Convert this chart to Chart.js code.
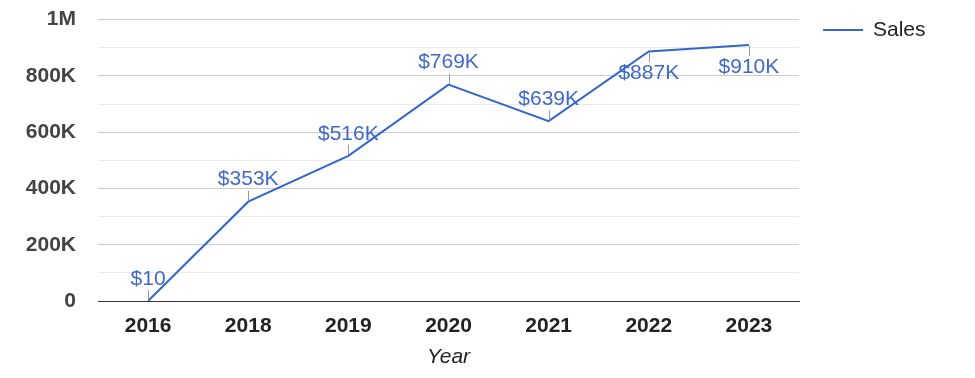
<!DOCTYPE html>
<html lang="en">
<head>
    <meta charset="UTF-8">
    <title>Sales by Year</title>
    <script src="https://cdn.jsdelivr.net/npm/chart.js"></script>
    <style>
        body { margin: 0; background: #fff; }
        #wrap { width: 975px; height: 378px; }
    </style>
</head>
<body>
    <div id="wrap"><canvas id="salesChart"></canvas></div>
    <script>
        const years = ['2016', '2018', '2019', '2020', '2021', '2022', '2023'];
        const sales = [10, 353000, 516000, 769000, 639000, 887000, 910000];
        const yTickValues = [0, 200000, 400000, 600000, 800000, 1000000];
        const yTickLabels = ['0', '200K', '400K', '600K', '800K', '1M'];

        const FONT = '"Liberation Sans", Arial, sans-serif';
        const LINE = '#3366cc';

        function money(v) {
            if (v >= 1000) return '$' + Math.round(v / 1000) + 'K';
            return '$' + v;
        }

        // point labels with the little gray stem, like google charts annotations
        const annotations = {
            id: 'annotations',
            afterDatasetsDraw(chart) {
                const ctx = chart.ctx;
                const meta = chart.getDatasetMeta(0);
                const top = chart.chartArea.top;
                ctx.save();
                ctx.font = '21px ' + FONT;
                ctx.textAlign = 'center';
                ctx.textBaseline = 'middle';
                meta.data.forEach((pt, i) => {
                    const below = pt.y - 35 < top;
                    const dir = below ? 1 : -1;
                    ctx.strokeStyle = '#999';
                    ctx.lineWidth = 1;
                    ctx.beginPath();
                    ctx.moveTo(Math.round(pt.x) + 0.5, pt.y + dir * 1);
                    ctx.lineTo(Math.round(pt.x) + 0.5, pt.y + dir * 11);
                    ctx.stroke();
                    ctx.fillStyle = '#4169c9';
                    ctx.fillText(money(sales[i]), pt.x, pt.y + dir * 22);
                });
                ctx.restore();
            }
        };

        const sideLegend = {
            id: 'sideLegend',
            afterDraw(chart) {
                const ctx = chart.ctx;
                const ds = chart.data.datasets[0];
                ctx.save();
                ctx.strokeStyle = ds.borderColor;
                ctx.lineWidth = 2;
                ctx.beginPath();
                ctx.moveTo(823, 30);
                ctx.lineTo(863, 30);
                ctx.stroke();
                ctx.fillStyle = '#222';
                ctx.font = '21px ' + FONT;
                ctx.textBaseline = 'middle';
                ctx.fillText(ds.label, 873, 30);
                ctx.restore();
            }
        };

        const ctx = document.getElementById('salesChart').getContext('2d');
        new Chart(ctx, {
            type: 'line',
            data: {
                labels: years,
                datasets: [{
                    label: 'Sales',
                    data: sales,
                    borderColor: LINE,
                    borderWidth: 2,
                    pointRadius: 0,
                    tension: 0,
                    fill: false
                }]
            },
            options: {
                responsive: true,
                maintainAspectRatio: false,
                animation: false,
                layout: { padding: { top: 0, right: 176, bottom: 0, left: 0 } },
                plugins: {
                    legend: { display: false },
                    tooltip: { enabled: false }
                },
                scales: {
                    x: {
                        offset: true,
                        afterFit(scale) { scale.height = 77; },
                        grid: { display: false, drawTicks: false },
                        border: { display: true, color: '#333', width: 1 },
                        ticks: { color: '#222', font: { family: FONT, size: 21, weight: 'bold' }, padding: 13 },
                        title: { display: true, text: 'Year', color: '#222', font: { family: FONT, size: 21, style: 'italic' }, padding: { top: 4, bottom: 8 } }
                    },
                    y: {
                        min: 0,
                        max: 1000000,
                        afterFit(scale) { scale.width = 98; },
                        afterBuildTicks(scale) {
                            scale.ticks = [];
                            for (let v = 0; v <= 1000000; v += 100000) scale.ticks.push({ value: v });
                        },
                        border: { display: false },
                        grid: {
                            drawTicks: true,
                            tickLength: 15,
                            tickColor: 'rgba(0,0,0,0)',
                            color: c => c.tick.value === 0 ? '#333' : (yTickValues.includes(c.tick.value) ? '#ccc' : '#ebebeb')
                        },
                        ticks: {
                            autoSkip: false,
                            padding: 7,
                            color: '#444',
                            font: { family: FONT, size: 21, weight: 'bold' },
                            callback: v => {
                                const i = yTickValues.indexOf(v);
                                return i >= 0 ? yTickLabels[i] : '';
                            }
                        }
                    }
                }
            },
            plugins: [annotations, sideLegend]
        });
    </script>
</body>
</html>
